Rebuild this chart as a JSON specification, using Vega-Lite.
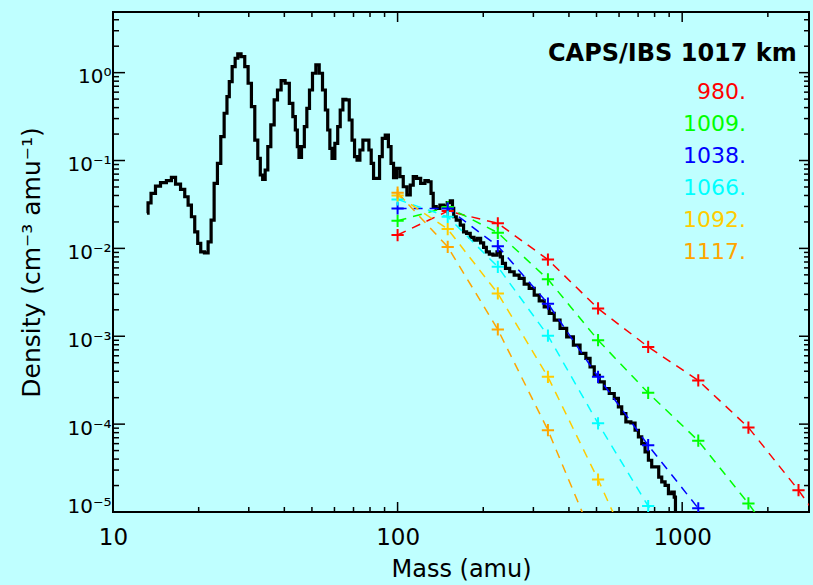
{
  "$schema": "https://vega.github.io/schema/vega-lite/v6.json",
  "width": 696,
  "height": 500,
  "autosize": {"type": "none"},
  "padding": {"left": 113, "top": 12, "right": 4, "bottom": 73},
  "background": "#BFFFFF",
  "config": {
    "view": {"stroke": "black", "strokeWidth": 2},
    "font": "DejaVu Sans",
    "axis": {"grid": false, "domain": false, "ticks": false, "labelColor": "black", "titleColor": "black", "labelFont": "DejaVu Sans", "titleFont": "DejaVu Sans", "titleFontWeight": "normal", "labelOverlap": false}
  },
  "datasets": {
    "xticks": [
      {"mass": 10, "kind": "major"}, {"mass": 100, "kind": "major"}, {"mass": 1000, "kind": "major"},
      {"mass": 20, "kind": "minor"}, {"mass": 30, "kind": "minor"}, {"mass": 40, "kind": "minor"}, {"mass": 50, "kind": "minor"}, {"mass": 60, "kind": "minor"}, {"mass": 70, "kind": "minor"}, {"mass": 80, "kind": "minor"}, {"mass": 90, "kind": "minor"},
      {"mass": 200, "kind": "minor"}, {"mass": 300, "kind": "minor"}, {"mass": 400, "kind": "minor"}, {"mass": 500, "kind": "minor"}, {"mass": 600, "kind": "minor"}, {"mass": 700, "kind": "minor"}, {"mass": 800, "kind": "minor"}, {"mass": 900, "kind": "minor"},
      {"mass": 2000, "kind": "minor"}
    ],
    "yticks": [
      {"density": 0.00001, "kind": "major"}, {"density": 0.0001, "kind": "major"}, {"density": 0.001, "kind": "major"}, {"density": 0.01, "kind": "major"}, {"density": 0.1, "kind": "major"}, {"density": 1, "kind": "major"},
      {"density": 0.00002, "kind": "minor"}, {"density": 0.00003, "kind": "minor"}, {"density": 0.00004, "kind": "minor"}, {"density": 0.00005, "kind": "minor"}, {"density": 0.00006, "kind": "minor"}, {"density": 0.00007, "kind": "minor"}, {"density": 0.00008, "kind": "minor"}, {"density": 0.00009, "kind": "minor"},
      {"density": 0.0002, "kind": "minor"}, {"density": 0.0003, "kind": "minor"}, {"density": 0.0004, "kind": "minor"}, {"density": 0.0005, "kind": "minor"}, {"density": 0.0006, "kind": "minor"}, {"density": 0.0007, "kind": "minor"}, {"density": 0.0008, "kind": "minor"}, {"density": 0.0009, "kind": "minor"},
      {"density": 0.002, "kind": "minor"}, {"density": 0.003, "kind": "minor"}, {"density": 0.004, "kind": "minor"}, {"density": 0.005, "kind": "minor"}, {"density": 0.006, "kind": "minor"}, {"density": 0.007, "kind": "minor"}, {"density": 0.008, "kind": "minor"}, {"density": 0.009, "kind": "minor"},
      {"density": 0.02, "kind": "minor"}, {"density": 0.03, "kind": "minor"}, {"density": 0.04, "kind": "minor"}, {"density": 0.05, "kind": "minor"}, {"density": 0.06, "kind": "minor"}, {"density": 0.07, "kind": "minor"}, {"density": 0.08, "kind": "minor"}, {"density": 0.09, "kind": "minor"},
      {"density": 0.2, "kind": "minor"}, {"density": 0.3, "kind": "minor"}, {"density": 0.4, "kind": "minor"}, {"density": 0.5, "kind": "minor"}, {"density": 0.6, "kind": "minor"}, {"density": 0.7, "kind": "minor"}, {"density": 0.8, "kind": "minor"}, {"density": 0.9, "kind": "minor"},
      {"density": 2, "kind": "minor"}, {"density": 3, "kind": "minor"}, {"density": 4, "kind": "minor"}
    ],
    "obs": [
      {"mass": 13.17, "density": 0.0251}, {"mass": 13.39, "density": 0.033}, {"mass": 13.82, "density": 0.0423}, {"mass": 14.39, "density": 0.0512},
      {"mass": 14.99, "density": 0.0559}, {"mass": 15.83, "density": 0.0589}, {"mass": 16.25, "density": 0.0644}, {"mass": 16.93, "density": 0.054},
      {"mass": 17.62, "density": 0.047}, {"mass": 18.12, "density": 0.0387}, {"mass": 18.61, "density": 0.0311}, {"mass": 19.11, "density": 0.0229},
      {"mass": 19.64, "density": 0.01545}, {"mass": 20.06, "density": 0.0114}, {"mass": 20.62, "density": 0.00914}, {"mass": 21.3, "density": 0.00891},
      {"mass": 21.88, "density": 0.01189}, {"mass": 22.36, "density": 0.021}, {"mass": 22.97, "density": 0.055}, {"mass": 23.59, "density": 0.0929},
      {"mass": 24.25, "density": 0.1867}, {"mass": 24.91, "density": 0.345}, {"mass": 25.38, "density": 0.533}, {"mass": 25.87, "density": 0.79},
      {"mass": 26.58, "density": 1.17}, {"mass": 27.16, "density": 1.459}, {"mass": 27.73, "density": 1.633}, {"mass": 28.64, "density": 1.521},
      {"mass": 29.44, "density": 1.17}, {"mass": 30.24, "density": 0.757}, {"mass": 31.06, "density": 0.41}, {"mass": 31.93, "density": 0.171},
      {"mass": 32.61, "density": 0.106}, {"mass": 33.25, "density": 0.0684}, {"mass": 33.88, "density": 0.0611}, {"mass": 34.63, "density": 0.078},
      {"mass": 35.36, "density": 0.1436}, {"mass": 36.35, "density": 0.254}, {"mass": 37.34, "density": 0.489}, {"mass": 38.35, "density": 0.635},
      {"mass": 39.61, "density": 0.811}, {"mass": 40.91, "density": 0.757}, {"mass": 42.4, "density": 0.448}, {"mass": 43.3, "density": 0.3154},
      {"mass": 44.15, "density": 0.2225}, {"mass": 44.72, "density": 0.1436}, {"mass": 45.35, "density": 0.1087}, {"mass": 46.57, "density": 0.1436},
      {"mass": 47.48, "density": 0.2427}, {"mass": 48.5, "density": 0.393}, {"mass": 49.56, "density": 0.635}, {"mass": 50.91, "density": 0.984},
      {"mass": 52.33, "density": 1.224}, {"mass": 53.75, "density": 0.984}, {"mass": 55.2, "density": 0.635}, {"mass": 56.29, "density": 0.376},
      {"mass": 57.34, "density": 0.2225}, {"mass": 58.28, "density": 0.1377}, {"mass": 59.38, "density": 0.106}, {"mass": 61.03, "density": 0.157},
      {"mass": 62.18, "density": 0.2427}, {"mass": 63.56, "density": 0.376}, {"mass": 64.91, "density": 0.498}, {"mass": 66.72, "density": 0.489},
      {"mass": 68.53, "density": 0.289}, {"mass": 69.82, "density": 0.171}, {"mass": 71.37, "density": 0.1105}, {"mass": 72.71, "density": 0.1013},
      {"mass": 74.73, "density": 0.1317}, {"mass": 76.33, "density": 0.171}, {"mass": 78.45, "density": 0.171}, {"mass": 80.13, "density": 0.1317},
      {"mass": 81.43, "density": 0.0929}, {"mass": 83.23, "density": 0.0627}, {"mass": 85.48, "density": 0.0627}, {"mass": 87.37, "density": 0.1105},
      {"mass": 89.3, "density": 0.179}, {"mass": 91.71, "density": 0.195}, {"mass": 93.97, "density": 0.1436}, {"mass": 95.72, "density": 0.0929},
      {"mass": 97.84, "density": 0.064}, {"mass": 100.5, "density": 0.0815}, {"mass": 103.3, "density": 0.0654}, {"mass": 106.1, "density": 0.0503},
      {"mass": 109.6, "density": 0.0405}, {"mass": 112.0, "density": 0.0526}, {"mass": 115.0, "density": 0.0654}, {"mass": 118.1, "density": 0.0627},
      {"mass": 123.0, "density": 0.055}, {"mass": 126.5, "density": 0.0589}, {"mass": 129.9, "density": 0.0573}, {"mass": 132.3, "density": 0.0423},
      {"mass": 134.5, "density": 0.0298}, {"mass": 138.9, "density": 0.02855}, {"mass": 142.8, "density": 0.0311}, {"mass": 147.5, "density": 0.0303},
      {"mass": 151.5, "density": 0.0331}, {"mass": 154.9, "density": 0.0348}, {"mass": 156.9, "density": 0.02855}, {"mass": 158.1, "density": 0.0229},
      {"mass": 163.4, "density": 0.021}, {"mass": 168.7, "density": 0.01843}, {"mass": 172.4, "density": 0.01545}, {"mass": 177.1, "density": 0.01482},
      {"mass": 182.9, "density": 0.01335}, {"mass": 188.0, "density": 0.01243}, {"mass": 193.2, "density": 0.013}, {"mass": 198.4, "density": 0.01158},
      {"mass": 202.8, "density": 0.01027}, {"mass": 207.3, "density": 0.00914}, {"mass": 212.9, "density": 0.00861}, {"mass": 219.9, "density": 0.00839},
      {"mass": 227.1, "density": 0.00914}, {"mass": 232.1, "density": 0.00802}, {"mass": 235.1, "density": 0.00675}, {"mass": 243.7, "density": 0.00592},
      {"mass": 251.7, "density": 0.00542}, {"mass": 262.1, "density": 0.00497}, {"mass": 272.9, "density": 0.00455}, {"mass": 284.2, "density": 0.00392},
      {"mass": 296.0, "density": 0.0035}, {"mass": 308.2, "density": 0.00294}, {"mass": 320.9, "density": 0.00253}, {"mass": 334.2, "density": 0.00216},
      {"mass": 348.0, "density": 0.00182}, {"mass": 362.4, "density": 0.001526}, {"mass": 382.3, "density": 0.001227}, {"mass": 403.5, "density": 0.000984},
      {"mass": 426.1, "density": 0.000792}, {"mass": 449.5, "density": 0.000637}, {"mass": 468.1, "density": 0.000559}, {"mass": 481.1, "density": 0.000448},
      {"mass": 501.0, "density": 0.00036}, {"mass": 521.7, "density": 0.000302}, {"mass": 543.2, "density": 0.000254}, {"mass": 565.7, "density": 0.000223},
      {"mass": 588.9, "density": 0.000196}, {"mass": 604.9, "density": 0.000157}, {"mass": 621.3, "density": 0.000132}, {"mass": 647.0, "density": 0.000106},
      {"mass": 673.7, "density": 0.000103}, {"mass": 692.5, "density": 0.0000852}, {"mass": 711.2, "density": 0.0000715}, {"mass": 730.5, "density": 0.0000601},
      {"mass": 750.8, "density": 0.0000483}, {"mass": 771.1, "density": 0.0000388}, {"mass": 792.0, "density": 0.0000326}, {"mass": 818.1, "density": 0.0000326},
      {"mass": 836.2, "density": 0.000025}, {"mass": 858.9, "density": 0.000022}, {"mass": 882.9, "density": 0.0000201}, {"mass": 906.8, "density": 0.0000162},
      {"mass": 931.3, "density": 0.0000169}, {"mass": 944.1, "density": 0.0000148}, {"mass": 950.0, "density": 0.000001}
    ],
    "model": [
      {"alt": "980.", "mass": 100, "density": 0.0142}, {"alt": "980.", "mass": 150, "density": 0.0266}, {"alt": "980.", "mass": 225, "density": 0.0193},
      {"alt": "980.", "mass": 337.5, "density": 0.00745}, {"alt": "980.", "mass": 506.3, "density": 0.00207}, {"alt": "980.", "mass": 759.4, "density": 0.000757},
      {"alt": "980.", "mass": 1139, "density": 0.000314}, {"alt": "980.", "mass": 1709, "density": 0.0000915}, {"alt": "980.", "mass": 2563, "density": 0.0000177},
      {"alt": "980.", "mass": 3844, "density": 0.0000028},
      {"alt": "1009.", "mass": 100, "density": 0.0206}, {"alt": "1009.", "mass": 150, "density": 0.0295}, {"alt": "1009.", "mass": 225, "density": 0.01506},
      {"alt": "1009.", "mass": 337.5, "density": 0.00445}, {"alt": "1009.", "mass": 506.3, "density": 0.000903}, {"alt": "1009.", "mass": 759.4, "density": 0.000227},
      {"alt": "1009.", "mass": 1139, "density": 0.0000647}, {"alt": "1009.", "mass": 1709, "density": 0.0000125}, {"alt": "1009.", "mass": 2563, "density": 0.000002},
      {"alt": "1038.", "mass": 100, "density": 0.0285}, {"alt": "1038.", "mass": 150, "density": 0.0285}, {"alt": "1038.", "mass": 225, "density": 0.0106},
      {"alt": "1038.", "mass": 337.5, "density": 0.00235}, {"alt": "1038.", "mass": 506.3, "density": 0.000345}, {"alt": "1038.", "mass": 759.4, "density": 0.0000575},
      {"alt": "1038.", "mass": 1139, "density": 0.000011}, {"alt": "1038.", "mass": 1709, "density": 0.0000016},
      {"alt": "1066.", "mass": 100, "density": 0.0361}, {"alt": "1066.", "mass": 150, "density": 0.0229}, {"alt": "1066.", "mass": 225, "density": 0.00617},
      {"alt": "1066.", "mass": 337.5, "density": 0.001016}, {"alt": "1066.", "mass": 506.3, "density": 0.000102}, {"alt": "1066.", "mass": 759.4, "density": 0.0000117},
      {"alt": "1066.", "mass": 1139, "density": 0.0000013},
      {"alt": "1092.", "mass": 100, "density": 0.04}, {"alt": "1092.", "mass": 150, "density": 0.0166}, {"alt": "1092.", "mass": 225, "density": 0.00307},
      {"alt": "1092.", "mass": 337.5, "density": 0.000345}, {"alt": "1092.", "mass": 506.3, "density": 0.0000234}, {"alt": "1092.", "mass": 759.4, "density": 0.0000013},
      {"alt": "1117.", "mass": 100, "density": 0.043}, {"alt": "1117.", "mass": 150, "density": 0.0104}, {"alt": "1117.", "mass": 225, "density": 0.001195},
      {"alt": "1117.", "mass": 337.5, "density": 0.0000853}, {"alt": "1117.", "mass": 506.3, "density": 0.0000037}
    ]
  },
  "layer": [
    {
      "data": {"name": "obs"},
      "mark": {"type": "line", "color": "black", "strokeWidth": 3.2, "interpolate": "step", "clip": true},
      "encoding": {
        "x": {"field": "mass", "type": "quantitative", "scale": {"type": "log", "domain": [10, 2790], "nice": false},
          "axis": {"orient": "bottom", "values": [10, 100, 1000], "format": "d", "labelPadding": 14, "labelFontSize": 23, "labelFlush": false, "title": "Mass (amu)", "titleFontSize": 24, "titlePadding": 8}},
        "y": {"field": "density", "type": "quantitative", "scale": {"type": "log", "domain": [0.00001, 4.9], "nice": false},
          "axis": {"orient": "left", "values": [0.00001, 0.0001, 0.001, 0.01, 0.1, 1], "labelExpr": "datum.value > 0.5 ? '10⁰' : datum.value > 0.05 ? '10⁻¹' : datum.value > 0.005 ? '10⁻²' : datum.value > 0.0005 ? '10⁻³' : datum.value > 0.00005 ? '10⁻⁴' : '10⁻⁵'", "labelPadding": 2, "labelFontSize": 20, "labelFlush": true, "labelOffset": 4, "title": "Density (cm⁻³ amu⁻¹)", "titleFontSize": 25, "titlePadding": 22}}
      }
    },
    {
      "data": {"name": "xticks"},
      "transform": [{"filter": "datum.kind == 'major'"}],
      "mark": {"type": "rule", "color": "black", "strokeWidth": 1.5, "y2Offset": -10},
      "encoding": {
        "x": {"field": "mass", "type": "quantitative", "scale": {"type": "log", "domain": [10, 2790], "nice": false}, "axis": null},
        "y": {"datum": 0.00001, "type": "quantitative", "scale": {"type": "log", "domain": [0.00001, 4.9], "nice": false}, "axis": null},
        "y2": {"datum": 0.00001}
      }
    },
    {
      "data": {"name": "xticks"},
      "transform": [{"filter": "datum.kind == 'minor'"}],
      "mark": {"type": "rule", "color": "black", "strokeWidth": 1.5, "y2Offset": -5},
      "encoding": {
        "x": {"field": "mass", "type": "quantitative", "scale": {"type": "log", "domain": [10, 2790], "nice": false}, "axis": null},
        "y": {"datum": 0.00001, "type": "quantitative", "scale": {"type": "log", "domain": [0.00001, 4.9], "nice": false}, "axis": null},
        "y2": {"datum": 0.00001}
      }
    },
    {
      "data": {"name": "xticks"},
      "transform": [{"filter": "datum.kind == 'major'"}],
      "mark": {"type": "rule", "color": "black", "strokeWidth": 1.5, "y2Offset": 10},
      "encoding": {
        "x": {"field": "mass", "type": "quantitative", "scale": {"type": "log", "domain": [10, 2790], "nice": false}, "axis": null},
        "y": {"datum": 4.9, "type": "quantitative", "scale": {"type": "log", "domain": [0.00001, 4.9], "nice": false}, "axis": null},
        "y2": {"datum": 4.9}
      }
    },
    {
      "data": {"name": "xticks"},
      "transform": [{"filter": "datum.kind == 'minor'"}],
      "mark": {"type": "rule", "color": "black", "strokeWidth": 1.5, "y2Offset": 5},
      "encoding": {
        "x": {"field": "mass", "type": "quantitative", "scale": {"type": "log", "domain": [10, 2790], "nice": false}, "axis": null},
        "y": {"datum": 4.9, "type": "quantitative", "scale": {"type": "log", "domain": [0.00001, 4.9], "nice": false}, "axis": null},
        "y2": {"datum": 4.9}
      }
    },
    {
      "data": {"name": "yticks"},
      "transform": [{"filter": "datum.kind == 'major'"}],
      "mark": {"type": "rule", "color": "black", "strokeWidth": 1.5, "x2Offset": 12},
      "encoding": {
        "y": {"field": "density", "type": "quantitative", "scale": {"type": "log", "domain": [0.00001, 4.9], "nice": false}, "axis": null},
        "x": {"datum": 10, "type": "quantitative", "scale": {"type": "log", "domain": [10, 2790], "nice": false}, "axis": null},
        "x2": {"datum": 10}
      }
    },
    {
      "data": {"name": "yticks"},
      "transform": [{"filter": "datum.kind == 'minor'"}],
      "mark": {"type": "rule", "color": "black", "strokeWidth": 1.5, "x2Offset": 6},
      "encoding": {
        "y": {"field": "density", "type": "quantitative", "scale": {"type": "log", "domain": [0.00001, 4.9], "nice": false}, "axis": null},
        "x": {"datum": 10, "type": "quantitative", "scale": {"type": "log", "domain": [10, 2790], "nice": false}, "axis": null},
        "x2": {"datum": 10}
      }
    },
    {
      "data": {"name": "yticks"},
      "transform": [{"filter": "datum.kind == 'major'"}],
      "mark": {"type": "rule", "color": "black", "strokeWidth": 1.5, "x2Offset": -10},
      "encoding": {
        "y": {"field": "density", "type": "quantitative", "scale": {"type": "log", "domain": [0.00001, 4.9], "nice": false}, "axis": null},
        "x": {"datum": 2790, "type": "quantitative", "scale": {"type": "log", "domain": [10, 2790], "nice": false}, "axis": null},
        "x2": {"datum": 2790}
      }
    },
    {
      "data": {"name": "yticks"},
      "transform": [{"filter": "datum.kind == 'minor'"}],
      "mark": {"type": "rule", "color": "black", "strokeWidth": 1.5, "x2Offset": -5},
      "encoding": {
        "y": {"field": "density", "type": "quantitative", "scale": {"type": "log", "domain": [0.00001, 4.9], "nice": false}, "axis": null},
        "x": {"datum": 2790, "type": "quantitative", "scale": {"type": "log", "domain": [10, 2790], "nice": false}, "axis": null},
        "x2": {"datum": 2790}
      }
    },
    {
      "data": {"name": "model"},
      "mark": {"type": "line", "strokeWidth": 1.5, "strokeDash": [9, 7], "clip": true},
      "encoding": {
        "x": {"field": "mass", "type": "quantitative", "scale": {"type": "log", "domain": [10, 2790], "nice": false}, "axis": null},
        "y": {"field": "density", "type": "quantitative", "scale": {"type": "log", "domain": [0.00001, 4.9], "nice": false}, "axis": null},
        "color": {"field": "alt", "type": "nominal",
          "scale": {"domain": ["980.", "1009.", "1038.", "1066.", "1092.", "1117."], "range": ["#FF0000", "#00FF00", "#0000FF", "#00FFFF", "#FFCC00", "#FFA500"]},
          "legend": {"orient": "none", "legendX": 435, "legendY": 30, "padding": 0, "title": "CAPS/IBS 1017 km", "titleFont": "DejaVu Sans", "titleFontSize": 24, "titleFontWeight": "bold", "titleColor": "black", "titleLimit": 500, "titlePadding": 15, "labelFont": "DejaVu Sans", "labelFontSize": 22, "labelAlign": "right", "labelOffset": 176, "labelLimit": 300, "symbolOpacity": 0, "symbolSize": 1, "symbolStrokeWidth": 0, "rowPadding": 10,
            "encode": {"labels": {"update": {"fill": {"scale": "color", "field": "value"}}}}}},
        "detail": {"field": "alt"}
      }
    },
    {
      "data": {"name": "model"},
      "mark": {"type": "point", "shape": "M-1,0L1,0M0,-1L0,1", "size": 150, "strokeWidth": 2, "filled": false, "opacity": 1, "clip": true},
      "encoding": {
        "x": {"field": "mass", "type": "quantitative", "scale": {"type": "log", "domain": [10, 2790], "nice": false}, "axis": null},
        "y": {"field": "density", "type": "quantitative", "scale": {"type": "log", "domain": [0.00001, 4.9], "nice": false}, "axis": null},
        "color": {"field": "alt", "type": "nominal", "scale": {"domain": ["980.", "1009.", "1038.", "1066.", "1092.", "1117."], "range": ["#FF0000", "#00FF00", "#0000FF", "#00FFFF", "#FFCC00", "#FFA500"]}, "legend": null}
      }
    }
  ],
  "resolve": {"axis": {"x": "independent", "y": "independent"}}
}
